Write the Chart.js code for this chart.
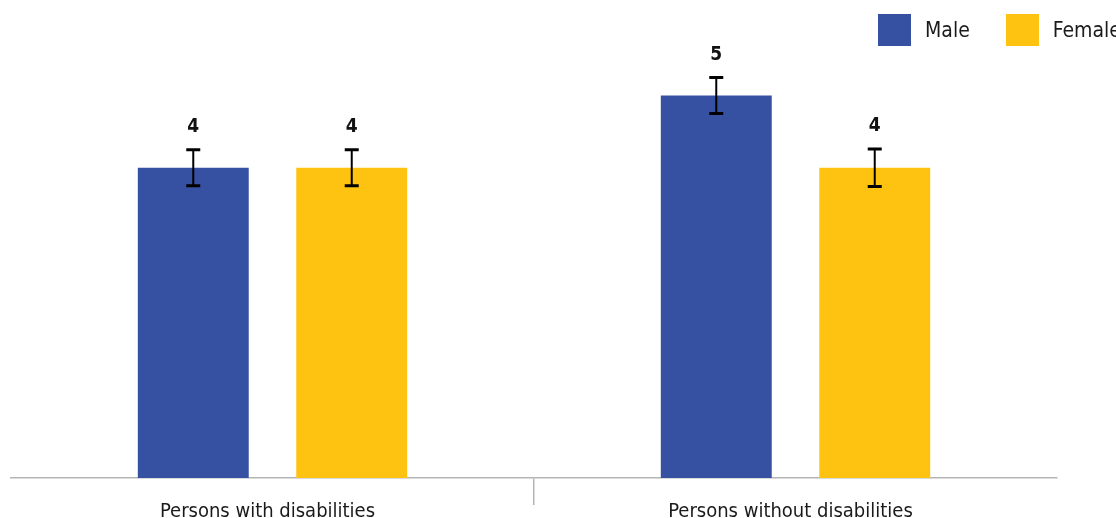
<!DOCTYPE html>
<html lang="en">
<head>
    <meta charset="UTF-8">
    <title>Persons with and without disabilities, by sex</title>
    <script src="https://cdn.jsdelivr.net/npm/chart.js"></script>
    <style>
        body {
            margin: 0;
            background: #fff;
            overflow: hidden;
        }

        .wrap {
            position: relative;
            width: 1116px;
            height: 518px;
        }

        .legend {
            position: absolute;
            left: 878px;
            top: 14px;
            display: flex;
            font-family: 'Liberation Sans Narrow', 'DejaVu Sans Condensed', Roboto, sans-serif;
            font-size: 21px;
            color: #1a1a1a;
            white-space: nowrap;
        }

        .legend-item {
            display: flex;
            align-items: center;
            margin-right: 36px;
        }

        .legend-box {
            width: 33px;
            height: 32px;
            margin-right: 14px;
        }
    </style>
</head>
<body>

    <div class="wrap">
        <canvas id="sexChart" width="1116" height="518"></canvas>
        <div class="legend" id="legend"></div>
    </div>

    <script>
        const FONT = "'Liberation Sans Narrow', 'DejaVu Sans Condensed', Roboto, sans-serif";

        // data (labels above the bars are the rounded values)
        const categories = ['Persons with disabilities', 'Persons without disabilities'];
        const seriesNames = ['Male', 'Female'];
        const maleValues = [4.3, 5.3];
        const femaleValues = [4.3, 4.3];
        const maleErrors = [0.25, 0.25];
        const femaleErrors = [0.25, 0.26];
        const seriesColors = ['#3650a2', '#fec210'];

        // error bars + value labels on top of each bar
        const errorBarPlugin = {
            id: 'errorBars',
            afterDatasetsDraw(chart) {
                const ctx = chart.ctx;
                const y = chart.scales.y;
                chart.data.datasets.forEach((ds, i) => {
                    chart.getDatasetMeta(i).data.forEach((bar, j) => {
                        const v = ds.data[j];
                        const e = ds.errors[j];
                        const top = y.getPixelForValue(v + e);
                        const bottom = y.getPixelForValue(v - e);
                        const x = bar.x;

                        ctx.save();
                        ctx.strokeStyle = '#000';
                        ctx.lineWidth = 2;
                        ctx.beginPath();
                        ctx.moveTo(x, top);
                        ctx.lineTo(x, bottom);
                        ctx.stroke();
                        ctx.lineWidth = 3;
                        ctx.beginPath();
                        ctx.moveTo(x - 7, top);
                        ctx.lineTo(x + 7, top);
                        ctx.moveTo(x - 7, bottom);
                        ctx.lineTo(x + 7, bottom);
                        ctx.stroke();

                        ctx.fillStyle = '#111';
                        ctx.font = 'bold 19px ' + FONT;
                        ctx.textAlign = 'center';
                        ctx.textBaseline = 'middle';
                        ctx.fillText(Math.round(v), x, top - 22.5);
                        ctx.restore();
                    });
                });
            }
        };

        const chart = new Chart(document.getElementById('sexChart'), {
            type: 'bar',
            data: {
                labels: categories,
                datasets: [
                    {
                        label: seriesNames[0],
                        data: maleValues,
                        errors: maleErrors,
                        backgroundColor: seriesColors[0]
                    },
                    {
                        label: seriesNames[1],
                        data: femaleValues,
                        errors: femaleErrors,
                        backgroundColor: seriesColors[1]
                    }
                ]
            },
            options: {
                responsive: false,
                animation: false,
                categoryPercentage: 0.606,
                barPercentage: 0.7,
                layout: {
                    padding: { top: 9, left: 11, right: 59, bottom: 0 }
                },
                plugins: {
                    legend: { display: false },
                    tooltip: { enabled: false }
                },
                scales: {
                    y: {
                        display: false,
                        min: 0,
                        max: 6.5
                    },
                    x: {
                        border: { display: true, color: '#b5b5b5', width: 1.5 },
                        grid: {
                            offset: true,
                            drawOnChartArea: false,
                            drawTicks: true,
                            tickLength: 27,
                            lineWidth: 1.5,
                            color: c => c.index === 1 ? '#b5b5b5' : 'rgba(0,0,0,0)'
                        },
                        ticks: {
                            padding: -3,
                            labelOffset: -5,
                            color: '#1a1a1a',
                            font: { family: FONT, size: 20, lineHeight: 1 }
                        },
                        afterFit: axis => { axis.height = 40; }
                    }
                }
            },
            plugins: [errorBarPlugin]
        });

        // legend as html, built from the datasets
        const legend = document.getElementById('legend');
        chart.data.datasets.forEach(ds => {
            const item = document.createElement('div');
            item.className = 'legend-item';
            item.innerHTML = `<span class="legend-box" style="background:${ds.backgroundColor}"></span><span>${ds.label}</span>`;
            legend.appendChild(item);
        });
    </script>

</body>
</html>
